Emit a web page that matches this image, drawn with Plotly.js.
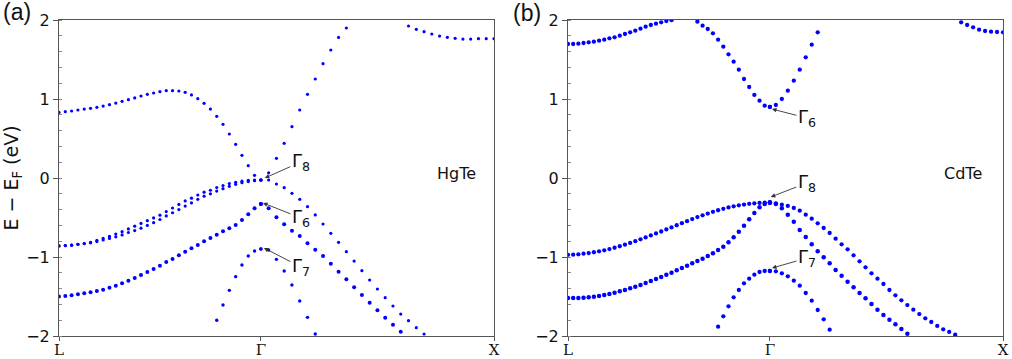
<!DOCTYPE html>
<html><head><meta charset="utf-8">
<script src="https://cdn.plot.ly/plotly-3.0.1.min.js"></script>
<style>html,body{margin:0;padding:0;background:#fff}#chart{width:1012px;height:359px}</style>
</head><body><div id="chart"></div>
<script>
// ---- k-path grids (L = 0, Γ = 0.866, X = 1.866) ----
const kLG_a = [0, 0.0271, 0.0541, 0.0812, 0.1083, 0.1353, 0.1624, 0.1894, 0.2165, 0.2436, 0.2706, 0.2977, 0.3248, 0.3518, 0.3789, 0.4059, 0.4330, 0.4601, 0.4871, 0.5142, 0.5413, 0.5683, 0.5954, 0.6224, 0.6495, 0.6766, 0.7036, 0.7307, 0.7578, 0.7848, 0.8119, 0.8389, 0.8660];
const kGX_a = [0.8660, 0.8993, 0.9327, 0.9660, 0.9993, 1.0327, 1.0660, 1.0993, 1.1327, 1.1660, 1.1993, 1.2327, 1.2660, 1.2993, 1.3327, 1.3660, 1.3993, 1.4327, 1.4660, 1.4993, 1.5327, 1.5660, 1.5993, 1.6327, 1.6660, 1.6993, 1.7327, 1.7660, 1.7993, 1.8327, 1.8660];
const kLG_b = [0, 0.0222, 0.0444, 0.0666, 0.0888, 0.1110, 0.1332, 0.1554, 0.1776, 0.1998, 0.2221, 0.2443, 0.2665, 0.2887, 0.3109, 0.3331, 0.3553, 0.3775, 0.3997, 0.4219, 0.4441, 0.4663, 0.4885, 0.5107, 0.5329, 0.5551, 0.5773, 0.5995, 0.6217, 0.6439, 0.6662, 0.6884, 0.7106, 0.7328, 0.7550, 0.7772, 0.7994, 0.8216, 0.8438, 0.8660];
const kGX_b = [0.8660, 0.8916, 0.9173, 0.9429, 0.9686, 0.9942, 1.0198, 1.0455, 1.0711, 1.0968, 1.1224, 1.1481, 1.1737, 1.1993, 1.2250, 1.2506, 1.2763, 1.3019, 1.3275, 1.3532, 1.3788, 1.4045, 1.4301, 1.4557, 1.4814, 1.5070, 1.5327, 1.5583, 1.5840, 1.6096, 1.6352, 1.6609, 1.6865, 1.7122, 1.7378, 1.7635, 1.7891, 1.8147, 1.8404, 1.8660];
const kTickVals = [0, 0.866, 1.866];
const kTickText = ['L', 'Γ', 'X'];

// ---- HgTe bands (eV) ----
const hg1_LG = [0.83, 0.84, 0.848, 0.861, 0.873, 0.882, 0.895, 0.911, 0.928, 0.949, 0.970, 0.992, 1.013, 1.038, 1.059, 1.076, 1.093, 1.105, 1.105, 1.101, 1.084, 1.051, 1.004, 0.945, 0.873, 0.781, 0.679, 0.557, 0.426, 0.287, 0.156, 0.034, -0.025];
const hg1_GX = [-0.025, 0.065, 0.249, 0.439, 0.65, 0.861, 1.059, 1.253, 1.447, 1.62, 1.78, 1.899, null, null, null, null, null, null, null, 1.924, 1.882, 1.852, 1.823, 1.797, 1.781, 1.768, 1.759, 1.759, 1.763, 1.763, 1.763];
const hg2_LG = [-0.86, -0.855, -0.85, -0.84, -0.83, -0.815, -0.79, -0.765, -0.74, -0.71, -0.68, -0.645, -0.61, -0.575, -0.54, -0.505, -0.47, -0.425, -0.38, -0.335, -0.29, -0.255, -0.215, -0.18, -0.155, -0.12, -0.095, -0.07, -0.055, -0.04, -0.03, -0.025, -0.025];
const hg2_GX = [-0.025, -0.025, -0.076, -0.122, -0.194, -0.27, -0.363, -0.468, -0.582, -0.70, -0.814, -0.932, -1.051, -1.173, -1.291, -1.405, -1.515, -1.62, -1.722, -1.806, -1.894, -1.975, null, null, null, null, null, null, null, null, null];
const hg3_LG = [-0.86, -0.855, -0.85, -0.84, -0.83, -0.82, -0.805, -0.785, -0.765, -0.745, -0.72, -0.69, -0.665, -0.635, -0.60, -0.565, -0.525, -0.48, -0.44, -0.40, -0.355, -0.315, -0.27, -0.23, -0.20, -0.165, -0.135, -0.105, -0.08, -0.06, -0.045, -0.035, -0.025];
const hg4_LG = [-1.50, -1.494, -1.485, -1.473, -1.46, -1.447, -1.43, -1.414, -1.388, -1.363, -1.333, -1.300, -1.266, -1.228, -1.19, -1.152, -1.11, -1.063, -1.025, -0.979, -0.932, -0.89, -0.848, -0.802, -0.759, -0.717, -0.675, -0.637, -0.595, -0.532, -0.46, -0.384, -0.329];
const hg4_GX = [-0.329, -0.384, -0.498, -0.586, -0.667, -0.734, -0.827, -0.907, -0.987, -1.084, -1.186, -1.283, -1.384, -1.481, -1.578, -1.675, -1.768, -1.857, -1.945, null, null, null, null, null, null, null, null, null, null, null, null];
const hg5_LG = [null, null, null, null, null, null, null, null, null, null, null, null, null, null, null, null, null, null, null, null, null, null, null, null, null, -1.80, -1.608, -1.422, -1.249, -1.101, -0.987, -0.924, -0.899];
const hg5_GX = [-0.899, -0.911, -1.03, -1.177, -1.354, -1.557, -1.764, -1.975, null, null, null, null, null, null, null, null, null, null, null, null, null, null, null, null, null, null, null, null, null, null, null];

// ---- CdTe bands (eV) ----
const cd1_LG = [1.696, 1.696, 1.700, 1.709, 1.717, 1.726, 1.738, 1.751, 1.768, 1.781, 1.802, 1.823, 1.844, 1.865, 1.890, 1.916, 1.937, 1.954, 1.970, 1.987, 1.998, null, null, null, null, 1.979, 1.928, 1.886, 1.831, 1.751, 1.662, 1.565, 1.473, 1.371, 1.253, 1.152, 1.051, 0.979, 0.916, 0.90];
const cd1_GX = [0.90, 0.924, 1.0, 1.105, 1.232, 1.371, 1.527, 1.688, 1.844, null, null, null, null, null, null, null, null, null, null, null, null, null, null, null, null, null, null, null, null, null, null, null, 1.97, 1.937, 1.907, 1.878, 1.861, 1.852, 1.848, 1.844];
const cd2_LG = [-0.972, -0.970, -0.966, -0.958, -0.950, -0.940, -0.928, -0.915, -0.900, -0.883, -0.864, -0.844, -0.822, -0.800, -0.776, -0.752, -0.727, -0.702, -0.677, -0.651, -0.625, -0.598, -0.572, -0.546, -0.520, -0.495, -0.472, -0.450, -0.428, -0.408, -0.390, -0.373, -0.358, -0.346, -0.336, -0.327, -0.320, -0.315, -0.312, -0.31];
const cd2_GX = [-0.31, -0.321, -0.338, -0.354, -0.380, -0.414, -0.464, -0.515, -0.574, -0.633, -0.696, -0.768, -0.840, -0.903, -0.979, -1.055, -1.131, -1.207, -1.274, -1.342, -1.418, -1.485, -1.549, -1.608, -1.667, -1.722, -1.776, -1.823, -1.873, -1.916, -1.949, -1.983, null, null, null, null, null, null, null, null];
const cd3_LG = [-1.519, -1.519, -1.519, -1.515, -1.511, -1.502, -1.494, -1.481, -1.468, -1.451, -1.435, -1.418, -1.397, -1.376, -1.354, -1.329, -1.304, -1.278, -1.253, -1.224, -1.198, -1.169, -1.139, -1.110, -1.080, -1.051, -1.021, -0.987, -0.954, -0.911, -0.869, -0.814, -0.751, -0.679, -0.603, -0.523, -0.443, -0.371, -0.329, -0.312];
const cd3_GX = [-0.31, -0.33, -0.384, -0.464, -0.553, -0.658, -0.747, -0.840, -0.928, -1.004, -1.080, -1.165, -1.236, -1.312, -1.384, -1.456, -1.523, -1.595, -1.667, -1.734, -1.793, -1.852, -1.911, -1.970, null, null, null, null, null, null, null, null, null, null, null, null, null, null, null, null];
const cd4_LG = [null, null, null, null, null, null, null, null, null, null, null, null, null, null, null, null, null, null, null, null, null, null, null, null, null, null, null, null, null, -1.882, -1.751, -1.624, -1.511, -1.418, -1.333, -1.274, -1.224, -1.190, -1.177, -1.177];
const cd4_GX = [-1.177, -1.181, -1.207, -1.245, -1.300, -1.363, -1.456, -1.553, -1.671, -1.789, -1.920, null, null, null, null, null, null, null, null, null, null, null, null, null, null, null, null, null, null, null, null, null, null, null, null, null, null, null, null, null];

const BLUE = '#0000ff';
function band(kA, eA, kB, eB, xa, ya, size) {
  const x = kB ? kA.concat(kB) : kA;
  const y = eB ? eA.concat(eB) : eA;
  return {x: x, y: y, xaxis: xa, yaxis: ya, type: 'scatter', mode: 'markers',
          marker: {color: BLUE, size: size, line: {width: 0}},
          hoverinfo: 'skip', showlegend: false, cliponaxis: true};
}

const data = [
  band(kLG_a, hg1_LG, kGX_a, hg1_GX, 'x', 'y', 3.2),
  band(kLG_a, hg2_LG, kGX_a, hg2_GX, 'x', 'y', 3.2),
  band(kLG_a, hg3_LG, null, null, 'x', 'y', 3.2),
  band(kLG_a, hg4_LG, kGX_a, hg4_GX, 'x', 'y', 4.0),
  band(kLG_a, hg5_LG, kGX_a, hg5_GX, 'x', 'y', 3.4),
  band(kLG_b, cd1_LG, kGX_b, cd1_GX, 'x2', 'y2', 4.3),
  band(kLG_b, cd2_LG, kGX_b, cd2_GX, 'x2', 'y2', 4.3),
  band(kLG_b, cd3_LG, kGX_b, cd3_GX, 'x2', 'y2', 4.5),
  band(kLG_b, cd4_LG, kGX_b, cd4_GX, 'x2', 'y2', 4.3)
];

const AX = '#555';
function xax(domain, anchor) {
  return {domain: domain, anchor: anchor, range: [0, 1.866], showgrid: false, zeroline: false,
    showline: true, mirror: true, linecolor: AX, linewidth: 1,
    tickmode: 'array', tickvals: kTickVals, ticktext: kTickText,
    ticks: 'outside', ticklen: 4, tickcolor: AX, tickwidth: 1, ticklabelstandoff: -4,
    tickfont: {family: 'DejaVu Serif', size: 15, color: '#111'}};
}
function yax(anchor, withTitle) {
  const a = {anchor: anchor, domain: [0, 1], range: [-2, 2], showgrid: false, zeroline: false,
    showline: true, mirror: true, linecolor: AX, linewidth: 1,
    tickmode: 'linear', tick0: -2, dtick: 1, ticks: 'outside', ticklen: 5, tickcolor: AX, tickwidth: 1,
    minor: {ticks: 'inside', ticklen: 3, tickcolor: '#888', dtick: 0.2, tick0: 0, showgrid: false},
    tickfont: {family: 'DejaVu Sans', size: 16, color: '#111'}};
  if (withTitle) {
    a.title = {text: 'E − E<sub>F</sub> (eV)', font: {family: 'DejaVu Sans', size: 19, color: '#111'}, standoff: 9};
  }
  return a;
}

function glabel(x, y, ax, ay, n, xr, yr) {
  return {x: x, y: y, xref: xr, yref: yr, text: 'Γ<sub>' + n + '</sub>', showarrow: true,
    ax: ax, ay: ay, arrowhead: 2, arrowsize: 1, arrowwidth: 0.9, arrowcolor: '#333', standoff: 0,
    font: {family: 'DejaVu Sans', size: 18, color: '#111'}};
}

const layout = {
  width: 1012, height: 359,
  margin: {l: 59, r: 9, t: 20, b: 23},
  paper_bgcolor: '#fff', plot_bgcolor: '#fff',
  font: {family: 'DejaVu Sans', color: '#111'},
  xaxis: xax([0, 0.4608], 'y'),
  yaxis: yax('x', true),
  xaxis2: xax([0.5392, 1], 'y2'),
  yaxis2: yax('x2', false),
  annotations: [
    {xref: 'paper', yref: 'paper', x: -0.0445, y: 1.024, xanchor: 'center', yanchor: 'middle', text: '(a)', showarrow: false,
     font: {family: 'Liberation Sans', size: 23, color: '#111'}},
    {xref: 'paper', yref: 'paper', x: 0.4958, y: 1.021, xanchor: 'center', yanchor: 'middle', text: '(b)', showarrow: false,
     font: {family: 'Liberation Sans', size: 23, color: '#111'}},
    {xref: 'x', yref: 'y', x: 1.707, y: 0.06, text: 'HgTe', showarrow: false,
     font: {family: 'DejaVu Sans', size: 16, color: '#111'}},
    {xref: 'x2', yref: 'y2', x: 1.694, y: 0.06, text: 'CdTe', showarrow: false,
     font: {family: 'DejaVu Sans', size: 16, color: '#111'}},
    glabel(0.883, 0.0, 36, -16, 8, 'x', 'y'),
    glabel(0.875, -0.316, 38, 15, 6, 'x', 'y'),
    glabel(0.879, -0.886, 37, 19, 7, 'x', 'y'),
    glabel(0.870, -0.24, 36, -14, 8, 'x2', 'y2'),
    glabel(0.875, 0.873, 35, 9, 6, 'x2', 'y2'),
    glabel(0.875, -1.14, 35, -10, 7, 'x2', 'y2')
  ]
};

Plotly.newPlot('chart', data, layout, {displayModeBar: false, staticPlot: true});
</script></body></html>
